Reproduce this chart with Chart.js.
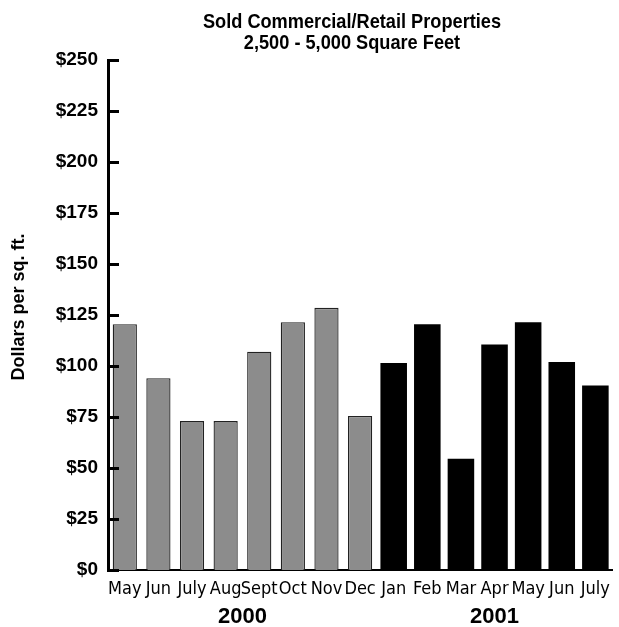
<!DOCTYPE html>
<html>
<head>
<meta charset="utf-8">
<script src="https://cdn.jsdelivr.net/npm/chart.js@4.4.1/dist/chart.umd.min.js"></script>
<style>
html,body{margin:0;padding:0;background:#fff;}
#wrap{width:619px;height:627px;position:relative;}
</style>
</head>
<body>
<div id="wrap"><canvas id="c" width="619" height="627"></canvas></div>
<script>
const titleLines = ['Sold Commercial/Retail Properties', '2,500 - 5,000 Square Feet'];
const yAxisTitle = 'Dollars per sq. ft.';
const months = ['May','Jun','July','Aug','Sept','Oct','Nov','Dec','Jan','Feb','Mar','Apr','May','Jun','July'];
const years = ['2000', '2001'];
const values2000 = [120.5, 94, 73, 73, 107, 121.5, 128.5, 75.5];
const values2001 = [101.5, 120.5, 54.5, 110.5, 121.5, 102, 90.5];
const yTicks = [0, 25, 50, 75, 100, 125, 150, 175, 200, 225, 250];

const NARROW = "'Liberation Sans Narrow', 'DejaVu Sans Condensed', 'Arial Narrow', sans-serif";
const ARIAL = "'Liberation Sans', Arial, sans-serif";

const data2000 = months.map((m, i) => i < values2000.length ? values2000[i] : null);
const data2001 = months.map((m, i) => i >= values2000.length ? values2001[i - values2000.length] : null);

const decor = {
  id: 'decor',
  afterDatasetsDraw(chart) {
    const ctx = chart.ctx;
    const y = chart.scales.y;
    const ca = chart.chartArea;
    ctx.save();
    // inward tick marks
    ctx.strokeStyle = '#000';
    ctx.lineWidth = 3;
    yTicks.forEach(v => {
      const py = Math.round(y.getPixelForValue(v)) + 0.5;
      ctx.beginPath();
      ctx.moveTo(ca.left - 1, py);
      ctx.lineTo(ca.left + 11, py);
      ctx.stroke();
    });
    ctx.restore();
  },
  afterDraw(chart) {
    const ctx = chart.ctx;
    const x = chart.scales.x;
    ctx.save();
    ctx.fillStyle = '#000';
    // title (condensed by horizontal scaling)
    ctx.save();
    ctx.translate(352, 0);
    ctx.scale(0.866, 1);
    ctx.font = "bold 21px " + ARIAL;
    ctx.textAlign = 'center';
    ctx.textBaseline = 'alphabetic';
    ctx.fillText(titleLines[0], 0, 27.5);
    ctx.fillText(titleLines[1], 0, 48.5);
    ctx.restore();
    // year labels centred under their months
    ctx.font = "bold 22px " + ARIAL;
    ctx.textAlign = 'center';
    ctx.textBaseline = 'alphabetic';
    const n0 = values2000.length;
    const c0 = (x.getPixelForValue(0) + x.getPixelForValue(n0 - 1)) / 2;
    const c1 = (x.getPixelForValue(n0) + x.getPixelForValue(months.length - 1)) / 2;
    ctx.fillText(years[0], c0, 623);
    ctx.fillText(years[1], c1, 623);
    // y-axis title
    ctx.translate(24, 307);
    ctx.rotate(-Math.PI / 2);
    ctx.font = "bold 18px " + ARIAL;
    ctx.fillText(yAxisTitle, 0, 0);
    ctx.restore();
  }
};

new Chart(document.getElementById('c'), {
  type: 'bar',
  data: {
    labels: months,
    datasets: [
      {
        label: years[0],
        data: data2000,
        backgroundColor: '#8c8c8c',
        borderColor: '#222',
        borderWidth: 1.3,
        barPercentage: 0.72,
        categoryPercentage: 1
      },
      {
        label: years[1],
        data: data2001,
        backgroundColor: '#000',
        borderWidth: 0,
        barPercentage: 0.79,
        categoryPercentage: 1
      }
    ]
  },
  options: {
    responsive: false,
    animation: false,
    devicePixelRatio: 1,
    layout: { padding: { top: 60, right: 2, left: 0, bottom: 0 } },
    plugins: {
      legend: { display: false },
      title: { display: false },
      tooltip: { enabled: false }
    },
    datasets: { bar: { grouped: false } },
    scales: {
      x: {
        grid: { display: false, drawTicks: false },
        border: { display: true, color: '#000', width: 2 },
        ticks: {
          autoSkip: false, maxRotation: 0, minRotation: 0,
          padding: 9,
          color: '#000',
          font: { family: NARROW, size: 18, weight: 'normal' }
        },
        afterFit: s => { s.height = 57; }
      },
      y: {
        min: 0, max: 250,
        grid: { display: false, drawTicks: false },
        border: { display: true, color: '#000', width: 3 },
        ticks: {
          stepSize: 25,
          padding: 10,
          color: '#000',
          font: { family: ARIAL, size: 19, weight: 'bold' },
          callback: v => '$' + v
        },
        afterFit: s => { s.width = 108; }
      }
    }
  },
  plugins: [decor]
});
</script>
</body>
</html>
